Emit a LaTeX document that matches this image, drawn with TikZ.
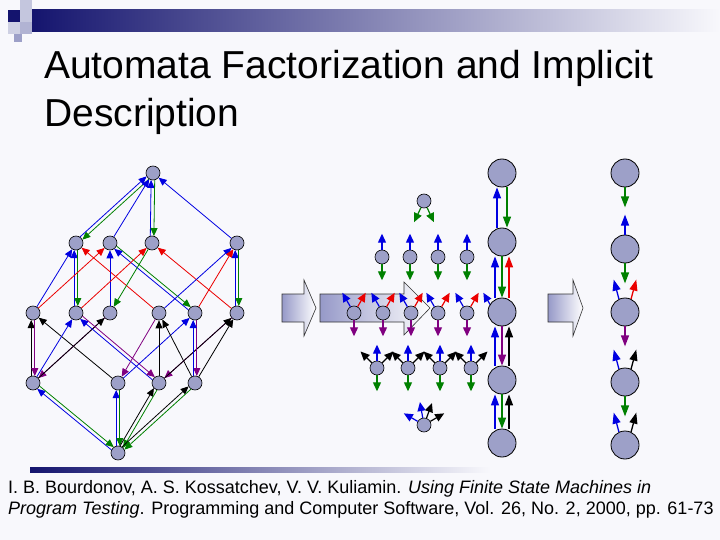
\documentclass[tikz,border=0pt]{standalone}
\usepackage{fontspec}
\setmainfont{Liberation Sans}
\usetikzlibrary{arrows.meta,calc}
\definecolor{nodefill}{RGB}{157,160,200}
\definecolor{eblue}{RGB}{0,0,225}
\definecolor{egreen}{RGB}{0,128,0}
\definecolor{ered}{RGB}{235,0,0}
\definecolor{epurple}{RGB}{128,0,128}
\definecolor{navy}{RGB}{20,20,110}
\definecolor{bg}{RGB}{248,248,252}
\definecolor{arrfill}{RGB}{150,153,200}
\tikzset{
  st/.style={circle,draw=black,fill=nodefill,inner sep=0pt,minimum size=14pt,line width=0.6pt},
  stbig/.style={circle,draw=black,fill=nodefill,inner sep=0pt,minimum size=28pt,line width=0.8pt},
  arr/.style={-{Triangle[length=8pt,width=7pt]},line width=0.8pt},
  sarr/.style={-{Triangle[length=9pt,width=8pt]},line width=1.2pt},
  arrb/.style={-{Triangle[length=11pt,width=8pt]},line width=1.3pt},
  blockarrow/.style={draw=black!80,line width=0.6pt,left color=arrfill,right color=white},
}
\newcommand{\dbl}[4]{%
  \draw[arr,#3,shorten <=7pt,shorten >=7pt] ($(#1)!1.8pt!90:(#2)$) -- ($(#2)!1.8pt!-90:(#1)$);
  \draw[arr,#4,shorten <=7pt,shorten >=7pt] ($(#2)!1.8pt!90:(#1)$) -- ($(#1)!1.8pt!-90:(#2)$);}
\newcommand{\sa}[4][16pt]{\draw[sarr,#4] (#2.#3) -- ++(#3:#1);}
\begin{document}
\begin{tikzpicture}[x=1pt,y=-1pt]
\useasboundingbox (0,0) rectangle (720,540);
\fill[bg] (0,0) rectangle (720,540);
% header decoration
\shade[left color=navy,right color=bg] (30,10) rectangle (720,32);
\fill[navy] (8,10) rectangle (20,22);
\fill[nodefill!60] (20,0) rectangle (32,10);
\fill[nodefill!60] (20,10) rectangle (32,22);
\fill[nodefill!80] (20,22) rectangle (32,34);
\fill[nodefill!50] (8,22) rectangle (20,34);
\fill[nodefill] (14,34) rectangle (22,42);
\shade[left color=navy,right color=bg] (30,467) rectangle (490,472);
% title
\node[anchor=west,font=\fontsize{39}{44}\selectfont,inner sep=0pt] (title1) at (44,68) {Automata Factorization and Implicit};
\node[anchor=west,font=\fontsize{39}{44}\selectfont,inner sep=0pt] (title2) at (44,116) {Description};
% footer
\node[anchor=north west,align=left,font=\fontsize{18}{21.5}\selectfont,inner sep=0pt] (ref) at (8,480)
 {I. B. Bourdonov, A. S. Kossatchev, V. V. Kuliamin. \textit{Using Finite State Machines in}\\
  \textit{Program Testing}. Programming and Computer Software, Vol. 26, No. 2, 2000, pp. 61-73};
% block arrows
\shade[blockarrow] (282,294) -- (304,294) -- (304,280) -- (316,308) -- (304,336) -- (304,322) -- (282,322) -- cycle;
\shade[blockarrow] (320,294) -- (404,294) -- (404,282) -- (430,308) -- (404,335) -- (404,322) -- (320,322) -- cycle;
\shade[blockarrow] (548,294) -- (573,294) -- (573,280) -- (583,308) -- (573,336) -- (573,322) -- (548,322) -- cycle;
% left lattice
\node[st] (T) at (153,173) {};
\node[st] (A1) at (76,243) {}; \node[st] (A2) at (110,243) {};
\node[st] (A3) at (152,243) {}; \node[st] (A4) at (237,243) {};
\node[st] (B1) at (33,313) {}; \node[st] (B2) at (76,313) {}; \node[st] (B3) at (110,313) {};
\node[st] (B4) at (159,313) {}; \node[st] (B5) at (195,313) {}; \node[st] (B6) at (237,313) {};
\node[st] (C1) at (33,383) {}; \node[st] (C2) at (118,383) {};
\node[st] (C3) at (159,383) {}; \node[st] (C4) at (195,383) {};
\node[st] (D) at (118,453) {};
\dbl{T}{A1}{egreen}{eblue}
\draw[arr,eblue] (A2) -- (T);
\dbl{A3}{T}{eblue}{egreen}
\draw[arr,eblue] (A4) -- (T);
\draw[arr,eblue] (B1) -- (A1);
\dbl{B2}{A1}{eblue}{egreen}
\draw[arr,ered] (B4) -- (A1);
\draw[arr,ered] (B1) -- (A2);
\draw[arr,eblue] (B3) -- (A2);
\dbl{A2}{B5}{egreen}{eblue}
\draw[arr,ered] (B2) -- (A3);
\draw[arr,egreen] (A3) -- (B3);
\draw[arr,ered] (B6) -- (A3);
\draw[arr,eblue] (B4) -- (A4);
\draw[arr,ered] (B5) -- (A4);
\dbl{B6}{A4}{eblue}{egreen}
\dbl{C1}{B1}{black}{epurple}
\draw[arr,black] (C2) -- (B1);
\draw[arr,eblue] (C1) -- (B2);
\draw[arr,epurple] (B3) -- (C1);
\draw[arr,black] (C1) -- (B3);
\dbl{C3}{B2}{eblue}{epurple}
\draw[arr,eblue] (C2) -- (B5);
\draw[arr,epurple] (B4) -- (C2);
\draw[arr,black] (C3) -- (B4);
\draw[arr,black] (C4) -- (B4);
\draw[arr,epurple] (B6) -- (C3);
\draw[arr,black] (C3) -- (B6);
\dbl{B5}{C4}{epurple}{eblue}
\draw[arr,black] (C4) -- (B6);
\dbl{D}{C1}{eblue}{egreen}
\dbl{D}{C2}{eblue}{egreen}
\dbl{D}{C3}{black}{egreen}
\dbl{D}{C4}{black}{egreen}
% middle small components
\node[st] (m0) at (424,201) {};
\sa{m0}{245}{egreen} \sa{m0}{295}{egreen}
\foreach \i/\x in {1/382,2/410,3/438,4/467}{
  \node[st] (r\i) at (\x,257) {};
  \sa{r\i}{90}{eblue} \sa{r\i}{270}{egreen}
}
\foreach \i/\x in {1/354,2/383,3/411,4/438,5/467}{
  \node[st] (s\i) at (\x,313) {};
  \sa{s\i}{120}{eblue} \sa{s\i}{60}{ered} \sa{s\i}{270}{epurple}
}
\node[st] (s6) at (495,313) {};
\sa{s6}{120}{eblue}
\foreach \i/\x in {1/377,2/408,3/440,4/471}{
  \node[st] (u\i) at (\x,368) {};
  \sa{u\i}{135}{black} \sa{u\i}{90}{eblue} \sa{u\i}{45}{black} \sa{u\i}{270}{egreen}
}
\node[st] (w) at (424,425) {};
\sa{w}{150}{eblue} \sa{w}{100}{eblue} \sa{w}{70}{black} \sa{w}{30}{black}
% middle column
\foreach \i/\y in {1/173,2/242,3/312,4/380,5/443}{\node[stbig] (M\i) at (502,\y) {};}
\draw[arrb,eblue] ([xshift=-5pt]M2.north) -- ([xshift=-5pt]M1.south);
\draw[arrb,egreen] ([xshift=5pt]M1.south) -- ([xshift=5pt]M2.north);
\draw[arrb,eblue] ([xshift=-7pt]M3.north) -- ([xshift=-7pt]M2.south);
\draw[arrb,egreen] ([xshift=0pt]M2.south) -- ([xshift=0pt]M3.north);
\draw[arrb,ered] ([xshift=7pt]M3.north) -- ([xshift=7pt]M2.south);
\draw[arrb,eblue] ([xshift=-7pt]M4.north) -- ([xshift=-7pt]M3.south);
\draw[arrb,epurple] ([xshift=0pt]M3.south) -- ([xshift=0pt]M4.north);
\draw[arrb,black] ([xshift=7pt]M4.north) -- ([xshift=7pt]M3.south);
\draw[arrb,eblue] ([xshift=-7pt]M5.north) -- ([xshift=-7pt]M4.south);
\draw[arrb,egreen] ([xshift=0pt]M4.south) -- ([xshift=0pt]M5.north);
\draw[arrb,black] ([xshift=7pt]M5.north) -- ([xshift=7pt]M4.south);
% right column
\foreach \i/\y in {1/173,2/249,3/312,4/382,5/445}{\node[stbig] (R\i) at (625,\y) {};}
\draw[arrb,egreen] (R1.270) -- ++(270:20pt);
\draw[arrb,eblue] (R2.90) -- ++(90:20pt);
\draw[arrb,egreen] (R2.270) -- ++(270:20pt);
\draw[arrb,eblue] (R3.115) -- ++(105:20pt);
\draw[arrb,ered] (R3.65) -- ++(75:20pt);
\draw[arrb,epurple] (R3.270) -- ++(270:20pt);
\draw[arrb,eblue] (R4.115) -- ++(105:20pt);
\draw[arrb,black] (R4.65) -- ++(75:20pt);
\draw[arrb,egreen] (R4.270) -- ++(270:20pt);
\draw[arrb,eblue] (R5.115) -- ++(105:20pt);
\draw[arrb,black] (R5.65) -- ++(75:20pt);
\end{tikzpicture}
\end{document}
